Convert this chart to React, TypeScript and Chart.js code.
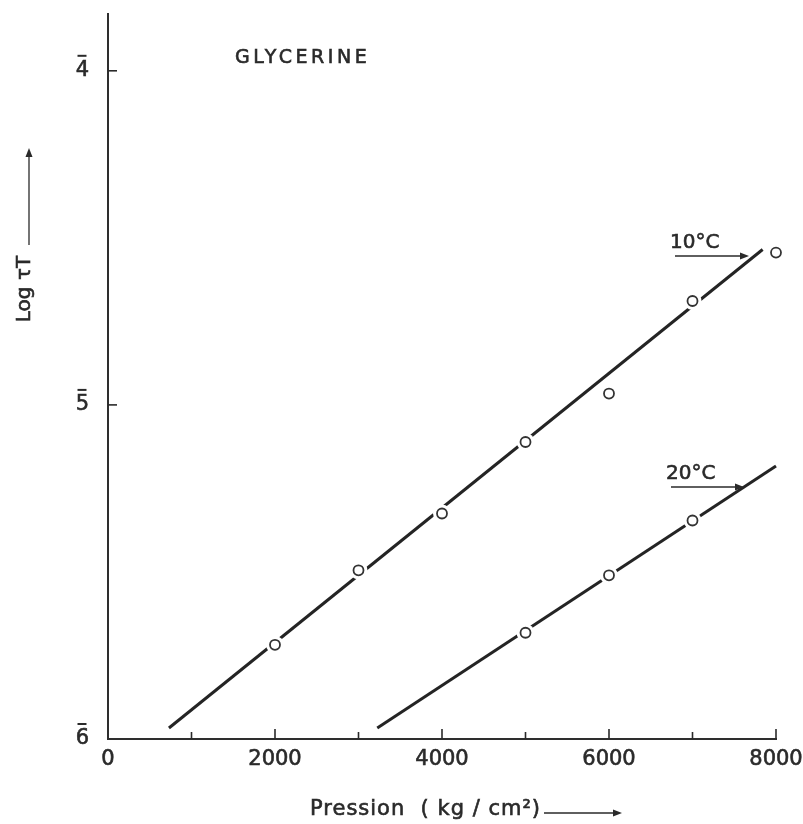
import { useEffect, useRef } from "react";
import { Chart, registerables } from "chart.js";

Chart.register(...registerables);

// ---- data ----
const pressure10C = [2000, 3000, 4000, 5000, 6000, 7000, 8000];
const logTau10C = [-5.718, -5.495, -5.325, -5.111, -4.966, -4.689, -4.544];
const fitPressure10C = [730, 7840];
const fitLogTau10C = [-5.967, -4.535];

const pressure20C = [5000, 6000, 7000];
const logTau20C = [-5.682, -5.51, -5.346];
const fitPressure20C = [3225, 8000];
const fitLogTau20C = [-5.967, -5.183];

const xTickValues = [0, 2000, 4000, 6000, 8000];
const xMinorTickValues = [1000, 3000, 5000, 7000];
const yTickValues = [-6, -5, -4];
const yTickLabels = ["6", "5", "4"]; // written with a bar above (negative characteristic)

const seriesLabels = ["10°C", "20°C"];
const chartTitle = "GLYCERINE";
const xTitle = "Pression  ( kg / cm²)";
const yTitle = "Log τT";

const INK = "#2a2a2a";
const FONT = "'DejaVu Sans', sans-serif";

function pts(xs: number[], ys: number[]) {
  return xs.map((x, i) => ({ x, y: ys[i] }));
}

function arrow(ctx: CanvasRenderingContext2D, x1: number, y1: number, x2: number, y2: number) {
  const head = 9;
  const half = 3.5;
  const ang = Math.atan2(y2 - y1, x2 - x1);
  ctx.save();
  ctx.strokeStyle = INK;
  ctx.fillStyle = INK;
  ctx.lineWidth = 1.3;
  ctx.beginPath();
  ctx.moveTo(x1, y1);
  ctx.lineTo(x2 - head * Math.cos(ang), y2 - head * Math.sin(ang));
  ctx.stroke();
  ctx.translate(x2, y2);
  ctx.rotate(ang);
  ctx.beginPath();
  ctx.moveTo(0, 0);
  ctx.lineTo(-head, -half);
  ctx.lineTo(-head, half);
  ctx.closePath();
  ctx.fill();
  ctx.restore();
}

function boldText(ctx: CanvasRenderingContext2D, s: string, x: number, y: number) {
  ctx.fillText(s, x, y);
  ctx.lineWidth = 0.6;
  ctx.strokeStyle = INK;
  ctx.strokeText(s, x, y);
}

const decorPlugin = {
  id: "decor",
  afterDraw(chart: any) {
    const ctx: CanvasRenderingContext2D = chart.ctx;
    const ca = chart.chartArea;
    const xs = chart.scales.x;
    const ys = chart.scales.y;
    ctx.save();
    ctx.strokeStyle = INK;
    ctx.lineWidth = 1.6;
    // inward ticks on the x axis
    xTickValues.slice(1).forEach((v) => {
      const px = xs.getPixelForValue(v);
      ctx.beginPath();
      ctx.moveTo(px, ca.bottom);
      ctx.lineTo(px, ca.bottom - 10);
      ctx.stroke();
    });
    xMinorTickValues.forEach((v) => {
      const px = xs.getPixelForValue(v);
      ctx.beginPath();
      ctx.moveTo(px, ca.bottom);
      ctx.lineTo(px, ca.bottom - 7);
      ctx.stroke();
    });
    // inward ticks on the y axis
    yTickValues.slice(1).forEach((v) => {
      const py = ys.getPixelForValue(v);
      ctx.beginPath();
      ctx.moveTo(ca.left, py);
      ctx.lineTo(ca.left + 9, py);
      ctx.stroke();
    });
    // bars over the y tick digits
    ctx.lineWidth = 2;
    yTickValues.forEach((v) => {
      const py = ys.getPixelForValue(v);
      const cx = ca.left - 26;
      ctx.beginPath();
      ctx.moveTo(cx - 4.5, py - 15);
      ctx.lineTo(cx + 4.5, py - 15);
      ctx.stroke();
    });

    ctx.fillStyle = INK;
    ctx.textBaseline = "middle";
    ctx.textAlign = "left";

    // title
    ctx.font = `19px ${FONT}`;
    (ctx as any).letterSpacing = "3.5px";
    boldText(ctx, chartTitle, ca.left + 127, ca.top + 44);
    (ctx as any).letterSpacing = "0px";

    // series labels with arrows
    ctx.font = `20px ${FONT}`;
    boldText(ctx, seriesLabels[0], ca.left + 562, ca.top + 229);
    arrow(ctx, ca.left + 567, ca.top + 242, ca.left + 641, ca.top + 242);
    boldText(ctx, seriesLabels[1], ca.left + 558, ca.top + 460);
    arrow(ctx, ca.left + 563, ca.top + 473, ca.left + 636, ca.top + 473);

    // x axis title
    ctx.font = `21px ${FONT}`;
    (ctx as any).letterSpacing = "1px";
    boldText(ctx, xTitle, ca.left + 202, ca.bottom + 71);
    (ctx as any).letterSpacing = "0px";
    arrow(ctx, ca.left + 436, ca.bottom + 74, ca.left + 514, ca.bottom + 74);

    // y axis title (rotated) with arrow
    ctx.save();
    ctx.translate(25, 289);
    ctx.rotate(-Math.PI / 2);
    ctx.textAlign = "center";
    ctx.font = `20px ${FONT}`;
    boldText(ctx, yTitle, 0, 0);
    ctx.restore();
    arrow(ctx, 29, 245, 29, 148);

    ctx.restore();
  },
};

export default function App() {
  const ref = useRef<HTMLCanvasElement | null>(null);

  useEffect(() => {
    if (!ref.current) return;
    const lineStyle = {
      showLine: true,
      borderColor: "#242424",
      borderWidth: 3,
      pointRadius: 0,
      pointHoverRadius: 0,
      fill: false,
      clip: false as any,
      order: 2,
    };
    const markerStyle = {
      pointRadius: 5,
      pointHoverRadius: 5,
      pointBackgroundColor: "#ffffff",
      pointBorderColor: "#333333",
      pointBorderWidth: 1.8,
      showLine: false,
      clip: false as any,
      order: 0,
    };
    const chart = new Chart(ref.current, {
      type: "scatter",
      data: {
        datasets: [
          { label: "fit 10", data: pts(fitPressure10C, fitLogTau10C), ...lineStyle },
          { label: "fit 20", data: pts(fitPressure20C, fitLogTau20C), ...lineStyle },
          {
            label: "halo",
            data: [...pts(pressure10C, logTau10C), ...pts(pressure20C, logTau20C)],
            pointRadius: 9,
            pointHoverRadius: 9,
            pointBackgroundColor: "#ffffff",
            pointBorderWidth: 0,
            pointBorderColor: "#ffffff",
            showLine: false,
            clip: false as any,
            order: 1,
          },
          { label: seriesLabels[0], data: pts(pressure10C, logTau10C), ...markerStyle },
          { label: seriesLabels[1], data: pts(pressure20C, logTau20C), ...markerStyle },
        ],
      },
      options: {
        responsive: false,
        maintainAspectRatio: false,
        animation: false,
        events: [],
        layout: { padding: { left: 0, right: 27, top: 14, bottom: 0 } },
        plugins: {
          legend: { display: false },
          tooltip: { enabled: false },
          title: { display: false },
        },
        scales: {
          x: {
            type: "linear",
            position: "bottom",
            min: 0,
            max: 8000,
            grid: { display: false, drawTicks: false },
            border: { display: true, color: "#2e2e2e", width: 2 },
            afterBuildTicks: (scale: any) => {
              scale.ticks = xTickValues.map((v) => ({ value: v }));
            },
            afterFit: (scale: any) => {
              scale.height = 85;
              scale.paddingLeft = 0;
              scale.paddingRight = 0;
            },
            ticks: {
              autoSkip: false,
              maxRotation: 0,
              padding: 8,
              color: INK,
              textStrokeColor: INK,
              textStrokeWidth: 0.6,
              font: { family: FONT, size: 21 },
              callback: (v: any) => String(v),
            },
          },
          y: {
            type: "linear",
            position: "left",
            min: -6,
            max: -3.83,
            grid: { display: false, drawTicks: false },
            border: { display: true, color: "#2e2e2e", width: 2 },
            afterBuildTicks: (scale: any) => {
              scale.ticks = yTickValues.map((v) => ({ value: v }));
            },
            afterFit: (scale: any) => {
              scale.width = 108;
              scale.paddingTop = 0;
              scale.paddingBottom = 0;
            },
            ticks: {
              autoSkip: false,
              padding: 19,
              color: INK,
              textStrokeColor: INK,
              textStrokeWidth: 0.6,
              font: { family: FONT, size: 21 },
              callback: (v: any) => {
                const i = yTickValues.indexOf(v);
                return i >= 0 ? yTickLabels[i] : "";
              },
            },
          },
        },
      },
      plugins: [decorPlugin],
    });
    return () => chart.destroy();
  }, []);

  return (
    <div style={{ position: "absolute", left: 0, top: 0, width: 803, height: 824, background: "#fff" }}>
      <canvas ref={ref} width={803} height={824} style={{ display: "block" }} />
    </div>
  );
}
